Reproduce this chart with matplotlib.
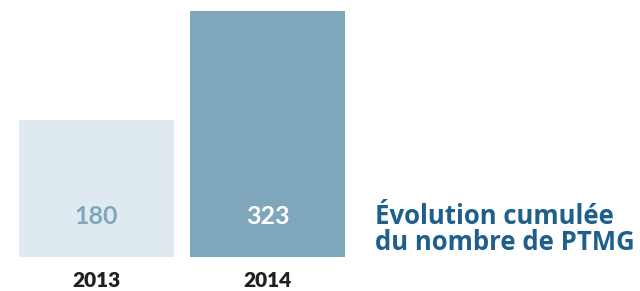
import matplotlib
matplotlib.use('Agg')
import matplotlib.pyplot as plt

# données
years = ['2013', '2014']
values = [180, 323]
bar_colors = ['#DFEAF0', '#7FA7BC']
value_colors = ['#7FA7BC', '#FFFFFF']
title_lines = ['Évolution cumulée', 'du nombre de PTMG']

W, H = 640, 291
fig = plt.figure(figsize=(W / 100, H / 100), dpi=100)

# axe placé en pixels : barres de x=19 à 345, base y=256.5, sommet y=11
ax = fig.add_axes([19 / W, (H - 256.5) / H, (345 - 19) / W, (256.5 - 11) / H])
ax.bar(range(len(values)), values, width=0.906, color=bar_colors)
ax.set_xlim(-0.453, 1.453)
ax.set_ylim(0, max(values))
ax.axis('off')

for i, (v, c) in enumerate(zip(values, value_colors)):
    ax.text(i, 0.163, str(v), transform=ax.get_xaxis_transform(),
            ha='center', va='center', color=c, fontsize=18,
            fontweight='bold', family='Lato')
    ax.text(i, -0.096, years[i], transform=ax.get_xaxis_transform(),
            ha='center', va='center', color='#231F20', fontsize=15,
            fontweight='heavy', family='Lato', clip_on=False)

fig.text(375 / W, 1 - 216 / H, title_lines[0], ha='left', va='center',
         color='#1F5F8B', fontsize=18.5, fontweight='bold', family='Open Sans')
fig.text(375 / W, 1 - 243 / H, title_lines[1], ha='left', va='center',
         color='#1F5F8B', fontsize=18.5, fontweight='bold', family='Open Sans')

fig.savefig('out.png', dpi=100)
